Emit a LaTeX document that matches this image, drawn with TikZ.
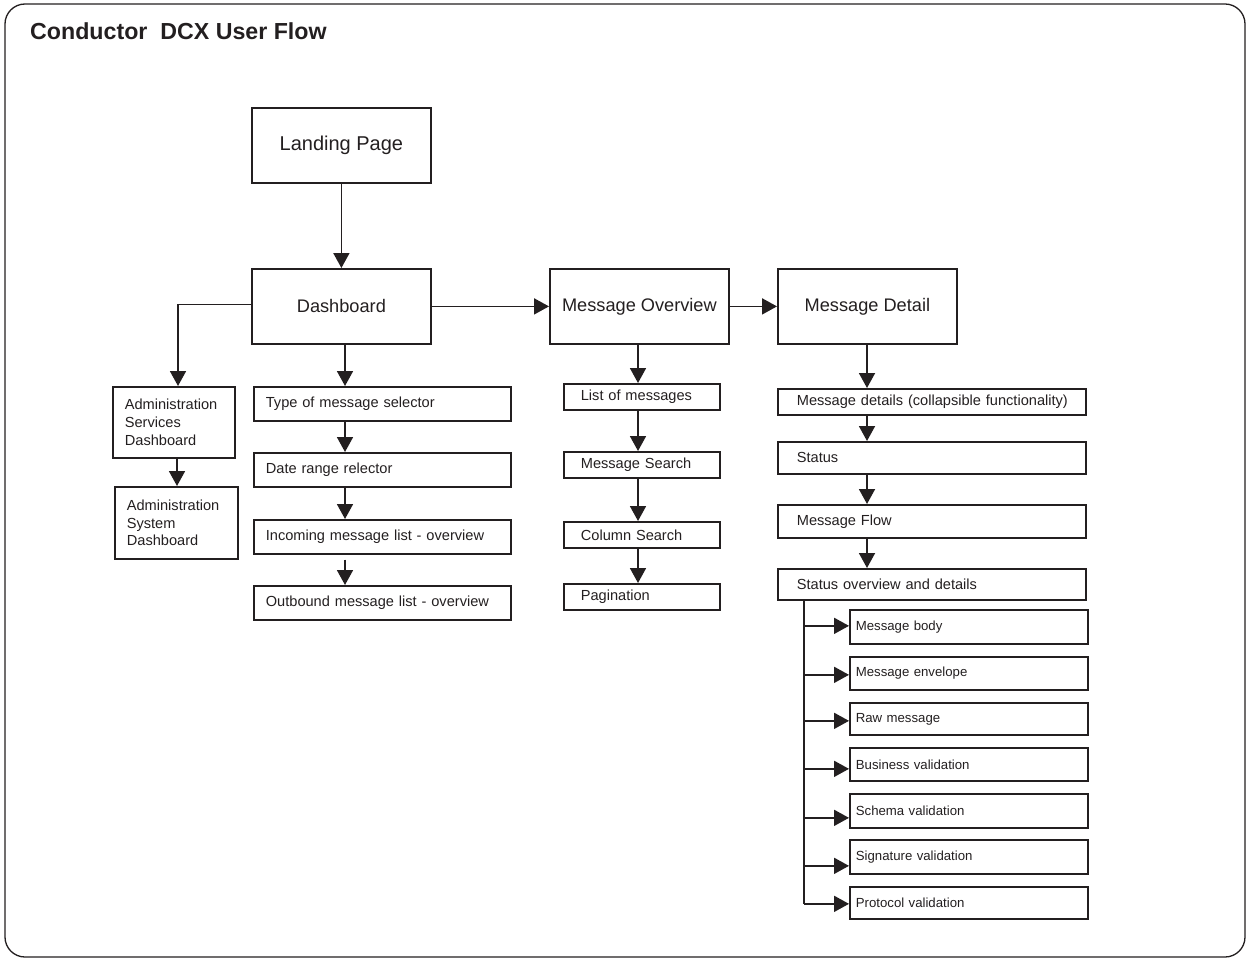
\documentclass[tikz,border=0pt]{standalone}
\usepackage{fontspec}
\setmainfont{Liberation Sans}
\usetikzlibrary{arrows.meta,calc}
\definecolor{ink}{HTML}{231F20}
\begin{document}
\begin{tikzpicture}[x=1pt,y=-1pt,
  every node/.style={text=ink},
  bigbox/.style={draw=ink, line width=1.8pt, anchor=north west, inner sep=0pt, align=center},
  lbox/.style={draw=ink, line width=1.7pt, anchor=north west, inner xsep=12pt, inner ysep=0pt, align=left},
  dbox/.style={lbox, inner xsep=13pt, text width=282pt, execute at begin node={\hspace*{6pt}}},
  arr/.style={draw=ink, line width=1.8pt, -{Triangle[length=15pt,width=16pt]}},
  ln/.style={draw=ink, line width=1.8pt},
  fbig/.style={font=\fontsize{18.2}{21.8}\selectfont},
  fmid/.style={font=\fontsize{14.6}{17.6}\selectfont},
  fsmall/.style={font=\fontsize{13.2}{15.8}\selectfont}]
\useasboundingbox (0,0) rectangle (1249,960);
\draw[draw=ink, line width=1.3pt, rounded corners=20pt] (5,4) rectangle (1245,957);
\node[anchor=west, font=\bfseries\fontsize{23.2}{27}\selectfont, inner sep=0pt] (title) at (30,31) {Conductor\ \ DCX User Flow};

% main boxes
\node[bigbox, minimum width=179pt, minimum height=75pt, font=\fontsize{20}{24}\selectfont] (lp) at (251,107) {Landing Page};
\node[bigbox, fbig, minimum width=179pt, minimum height=75pt] (db) at (251,268) {Dashboard};
\node[bigbox, fbig, minimum width=179pt, minimum height=75pt] (mo) at (549,268) {Message Overview};
\node[bigbox, fbig, minimum width=179pt, minimum height=75pt] (md) at (777,268) {Message Detail};

% admin column
\node[lbox, fmid, text width=98pt, minimum height=71pt] (as1) at (112,386) {Administration\\Services\\Dashboard};
\node[lbox, fmid, text width=99pt, minimum height=72pt] (as2) at (114,486) {Administration\\System\\Dashboard};

% dashboard column
\node[lbox, fmid, text width=233pt, minimum height=34pt] (t1) at (253,386) {Type of message selector};
\node[lbox, fmid, text width=233pt, minimum height=34pt] (t2) at (253,452) {Date range relector};
\node[lbox, fmid, text width=233pt, minimum height=34pt] (t3) at (253,519) {Incoming message list - overview};
\node[lbox, fmid, text width=233pt, minimum height=34pt] (t4) at (253,585) {Outbound message list - overview};

% overview column
\node[lbox, fmid, inner xsep=17pt, text width=122pt, minimum height=26pt] (o1) at (563,383) {List of messages};
\node[lbox, fmid, inner xsep=17pt, text width=122pt, minimum height=26pt] (o2) at (563,451) {Message Search};
\node[lbox, fmid, inner xsep=17pt, text width=122pt, minimum height=26pt] (o3) at (563,521) {Column Search};
\node[lbox, fmid, inner xsep=17pt, text width=122pt, minimum height=26pt] (o4) at (563,583) {Pagination};

% detail column
\node[dbox, fmid, minimum height=26pt] (d1) at (777,388) {Message details (collapsible functionality)};
\node[dbox, fmid, minimum height=32pt] (d2) at (777,441) {Status};
\node[dbox, fmid, minimum height=33pt] (d3) at (777,504) {Message Flow};
\node[dbox, fmid, minimum height=31pt] (d4) at (777,568) {Status overview and details};

% sub boxes
\node[lbox, fsmall, inner xsep=6pt, text width=226pt, minimum height=34pt] (p1) at (849,609) {Message body};
\node[lbox, fsmall, inner xsep=6pt, text width=226pt, minimum height=33pt] (p2) at (849,656) {Message envelope};
\node[lbox, fsmall, inner xsep=6pt, text width=226pt, minimum height=32pt] (p3) at (849,702) {Raw message};
\node[lbox, fsmall, inner xsep=6pt, text width=226pt, minimum height=33pt] (p4) at (849,747) {Business validation};
\node[lbox, fsmall, inner xsep=6pt, text width=226pt, minimum height=34pt] (p5) at (849,793) {Schema validation};
\node[lbox, fsmall, inner xsep=6pt, text width=226pt, minimum height=34pt] (p6) at (849,839) {Signature validation};
\node[lbox, fsmall, inner xsep=6pt, text width=226pt, minimum height=32pt] (p7) at (849,886) {Protocol validation};

% guide coordinates
\coordinate (c1) at (345,0);
\coordinate (c2) at (638,0);
\coordinate (c3) at (867,0);
\coordinate (ca) at (178,0);
\coordinate (cb) at (177,0);
\coordinate (tr) at (804,0);

% connectors
\draw[arr] (lp) -- (db);
\draw[arr] (db.east) -- (mo.west);
\draw[arr] (mo.east) -- (md.west);
\draw[arr] ($(db.west)+(0,-2)$) -| (as1.north -| ca);
\draw[arr] (as1.south -| cb) -- (as2.north -| cb);

\draw[arr] (db.south -| c1) -- (t1.north -| c1);
\draw[arr] (t1.south -| c1) -- (t2.north -| c1);
\draw[arr] (t2.south -| c1) -- (t3.north -| c1);
\draw[arr] ($(t3.south -| c1)+(0,5)$) -- (t4.north -| c1);

\draw[arr] (mo.south -| c2) -- (o1.north -| c2);
\draw[arr] (o1.south -| c2) -- (o2.north -| c2);
\draw[arr] (o2.south -| c2) -- (o3.north -| c2);
\draw[arr] (o3.south -| c2) -- (o4.north -| c2);

\draw[arr] (md.south -| c3) -- (d1.north -| c3);
\draw[arr] (d1.south -| c3) -- (d2.north -| c3);
\draw[arr] (d2.south -| c3) -- (d3.north -| c3);
\draw[arr] (d3.south -| c3) -- (d4.north -| c3);

\draw[ln] (d4.south -| tr) -- ($(p7.west -| tr)+(0,1)$);
\draw[arr] ($(p7.west -| tr)+(0,1)$) -- ($(p7.west)+(0,1)$);
\draw[arr] ($(p1.west -| tr)+(0,-1)$) -- ($(p1.west)+(0,-1)$);
\draw[arr] ($(p2.west -| tr)+(0,1.5)$) -- ($(p2.west)+(0,1.5)$);
\draw[arr] ($(p3.west -| tr)+(0,2)$) -- ($(p3.west)+(0,2)$);
\draw[arr] ($(p4.west -| tr)+(0,4.5)$) -- ($(p4.west)+(0,4.5)$);
\draw[arr] ($(p5.west -| tr)+(0,7)$) -- ($(p5.west)+(0,7)$);
\draw[arr] ($(p6.west -| tr)+(0,9)$) -- ($(p6.west)+(0,9)$);
\end{tikzpicture}
\end{document}
